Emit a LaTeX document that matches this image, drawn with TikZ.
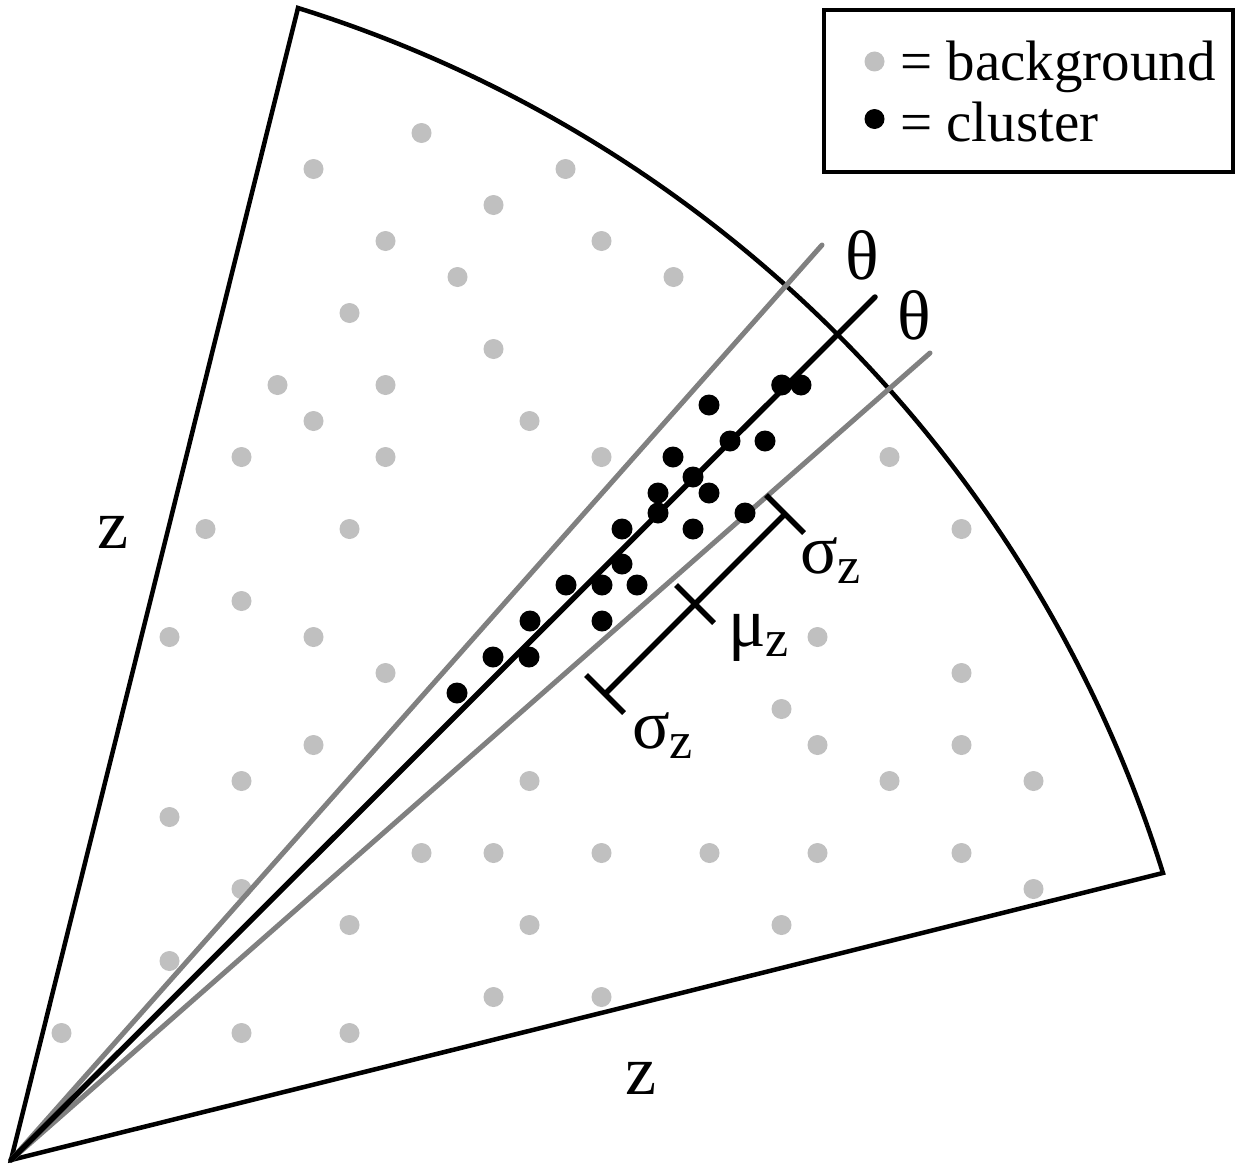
\documentclass[tikz,border=0pt]{standalone}
\usepackage{fontspec}
\setmainfont{Liberation Serif}
\definecolor{dotgray}{RGB}{192,192,192}
\definecolor{linegray}{RGB}{128,128,128}
\newcommand{\mysub}[1]{\raisebox{-10pt}{\fontsize{52}{56}\selectfont #1}}
\begin{document}
\begin{tikzpicture}[x=1pt,y=-1pt,
  bgdot/.style={circle,fill=dotgray,inner sep=0pt,minimum size=20pt},
  cldot/.style={circle,fill=black,inner sep=0pt,minimum size=21pt},
  edgeline/.style={line width=4.5pt,line join=miter},
  grayline/.style={draw=linegray,line width=5pt,line cap=round},
  mainline/.style={draw=black,line width=5.5pt,line cap=round},
  barline/.style={line width=5.5pt},
  lbl/.style={inner sep=0pt,anchor=base west,font=\fontsize{70}{74}\selectfont},
  leg/.style={inner sep=0pt,anchor=base west,font=\fontsize{57}{60}\selectfont}]
\useasboundingbox (0,0) rectangle (1242,1164);
\fill[white] (0,0) rectangle (1242,1164);
% wedge
\coordinate (O) at (11,1160);
\coordinate (T) at (298,8);
\coordinate (R) at (1163,873);
\draw[edgeline] (O) -- (T) arc[start angle=-72.68,end angle=-17.32,radius=1316.7] -- cycle;
% background dots
\foreach \px/\py [count=\i] in {421.5/133,
  313.5/169,565.5/169,
  493.5/205,
  385.5/241,601.5/241,
  457.5/277,673.5/277,
  349.5/313,
  493.5/349,
  277.5/385,385.5/385,
  313.5/421,529.5/421,
  241.5/457,385.5/457,601.5/457,889.5/457,
  205.5/529,349.5/529,961.5/529,
  241.5/601,
  169.5/637,313.5/637,817.5/637,
  385.5/673,961.5/673,
  781.5/709,
  313.5/745,817.5/745,961.5/745,
  241.5/781,529.5/781,889.5/781,1033.5/781,
  169.5/817,
  421.5/853,493.5/853,601.5/853,709.5/853,817.5/853,961.5/853,
  241.5/889,1033.5/889,
  349.5/925,529.5/925,781.5/925,
  169.5/961,
  493.5/997,601.5/997,
  61.5/1033,241.5/1033,349.5/1033}
  \node[bgdot] (bg\i) at (\px,\py) {};
% rays
\coordinate (Gu) at (822,245);
\coordinate (Gl) at (930,353);
\coordinate (Bk) at (875,297);
\draw[grayline] (O) -- (Gu);
\draw[grayline] (O) -- (Gl);
\draw[mainline] (O) -- (Bk);
% cluster dots
\foreach \px/\py [count=\i] in {781.7/385,801/385,709/405,730/441,765/441,673/457,
  693/477,658/493,709/493,658/513,745/513,622/529,693/529,622/564,
  566/585,602/585,637/585,530/621,602/621,493/657,529/657,457/693}
  \node[cldot] (cl\i) at (\px,\py) {};
% error bar
\coordinate (B1) at (605,694);
\coordinate (B2) at (785,514);
\coordinate (Bm) at (695,604);
\draw[barline] (B1) -- (B2);
\draw[barline] ([shift={(-19,-19)}]B1) -- ([shift={(19,19)}]B1);
\draw[barline] ([shift={(-19,-19)}]B2) -- ([shift={(19,19)}]B2);
\draw[barline] ([shift={(-19,-19)}]Bm) -- ([shift={(19,19)}]Bm);
% labels
\node[lbl] (thetaU) at (845,279) {θ};
\node[lbl] (thetaL) at (897,339) {θ};
\node[lbl] (zL) at (97,548) {z};
\node[lbl] (zB) at (625,1094) {z};
\node[lbl] (sigU) at (800,573) {σ\mysub{z}};
\node[lbl] (muz) at (728,646) {μ\mysub{z}};
\node[lbl] (sigL) at (632,748) {σ\mysub{z}};
% legend
\node[draw,line width=3.5pt,minimum width=409pt,minimum height=162pt,inner sep=0pt] (legend) at (1028.5,91) {};
\node[bgdot] (legbg) at (874.5,61.5) {};
\node[cldot,minimum size=20pt] (legcl) at (874.5,119) {};
\node[leg] (legbgtext) at (900,80.5) {= background};
\node[leg] (legcltext) at (900,141) {= cluster};
\end{tikzpicture}
\end{document}
